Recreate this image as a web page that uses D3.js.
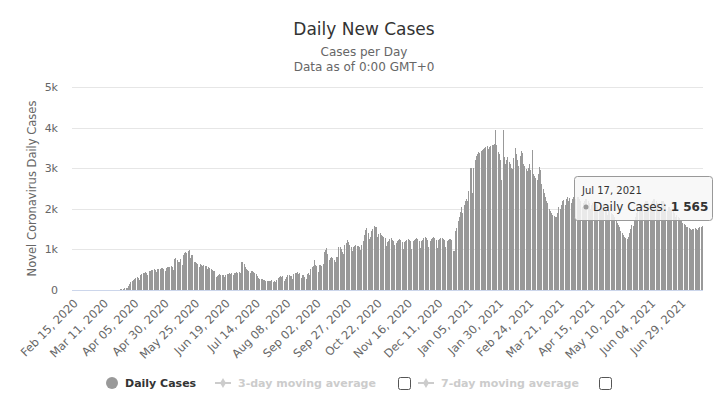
<!DOCTYPE html>
<html>
<head>
<meta charset="utf-8">
<script src="https://cdn.jsdelivr.net/npm/d3@7"></script>
<style>
  body { margin: 0; background: #fff; }
  .chart text { font-family: "DejaVu Sans", sans-serif; }
</style>
</head>
<body>
<div class="chart"></div>
<script>
// first day of the series, one value per day after it
const startDay = "2020-02-15";

const dailyCases = [
  0, 0, 0, 0, 0, 0, 0,
  0, 0, 0, 0, 0, 0, 0,
  0, 0, 0, 0, 0, 0, 0,
  0, 0, 0, 0, 0, 0, 0,
  0, 0, 0, 0, 0, 0, 0,
  0, 0, 0, 8, 15, 22, 12,
  30, 45, 60, 38, 95, 150, 190,
  230, 245, 270, 285, 310, 300, 250,
  360, 390, 410, 420, 440, 430, 380,
  470, 480, 495, 500, 505, 490, 440,
  510, 520, 525, 530, 540, 525, 470,
  550, 560, 565, 570, 580, 560, 490,
  760, 780, 740, 700, 690, 770, 620,
  860, 900, 940, 910, 960, 990, 780,
  870, 860, 700, 680, 660, 650, 560,
  640, 620, 600, 610, 590, 600, 520,
  560, 540, 520, 500, 480, 470, 320,
  350, 380, 390, 370, 380, 360, 330,
  380, 390, 400, 410, 400, 420, 360,
  420, 430, 440, 410, 450, 430, 680,
  700, 650, 560, 520, 500, 480, 430,
  480, 460, 440, 420, 400, 350, 300,
  280, 270, 260, 250, 240, 230, 220,
  230, 220, 210, 240, 200, 230, 190,
  250, 300, 320, 340, 330, 350, 230,
  280, 320, 360, 380, 340, 350, 260,
  400, 420, 430, 440, 390, 420, 300,
  380, 360, 330, 280, 400, 410, 370,
  520, 560, 600, 730, 620, 580, 450,
  610, 620, 600, 650, 940, 980, 1025,
  890, 730, 780, 820, 800, 750, 700,
  810, 820, 1050, 1070, 1020, 940, 880,
  1120, 1150, 1230, 1180, 1100, 1060, 950,
  1070, 1080, 1100, 1090, 1080, 1050, 980,
  1100, 1200, 1360, 1480, 1525, 1400, 1250,
  1300, 1450, 1500, 1570, 1560, 1545, 1300,
  1380, 1400, 1350, 1320, 1300, 1280, 1080,
  1190, 1210, 1250, 1275, 1230, 1200, 1100,
  1150, 1200, 1230, 1250, 1220, 1180, 1000,
  1180, 1210, 1240, 1260, 1230, 1200, 1010,
  1200, 1230, 1260, 1280, 1250, 1210, 1030,
  1200, 1240, 1270, 1300, 1280, 1230, 1050,
  1210, 1250, 1280, 1300, 1270, 1220, 1040,
  1220, 1250, 1270, 1290, 1260, 1230, 1060,
  1200, 1230, 1260, 1250, 1220, 970, 950,
  1460, 1520, 1700, 1800, 1920, 2040, 1900,
  2100, 2200, 2250, 2200, 2450, 3000, 3010,
  2400, 3000, 3200, 3300, 3350, 3400, 3380,
  3420, 3450, 3480, 3500, 3520, 3540, 3480,
  3530, 3550, 3560, 3560, 3600, 3930, 3560,
  3400, 3350, 3200, 2700, 3940, 3270, 3100,
  3200, 3270, 3150, 3100, 3000, 2980, 3250,
  3500, 3350, 3200, 3060, 3300, 3430, 3380,
  3100, 3050, 2980, 2940, 3000, 3100, 2950,
  3450, 2860, 2800, 2750, 2700, 2850, 3030,
  2960, 2600, 2500, 2400, 2300, 2200, 2150,
  2000, 1950, 1900, 1850, 1830, 1790, 1800,
  1900, 2040, 2000, 2100, 2200, 2220, 2100,
  2250, 2280, 2200, 2260, 2150, 2250, 2300,
  2200, 2250, 2300, 2280, 2250, 2200, 2050,
  2150, 2200, 2250, 2240, 2200, 2150, 2000,
  2100, 2150, 2200, 2180, 2150, 2100, 1950,
  2050, 2100, 2100, 2080, 2050, 2000, 1850,
  1950, 1950, 1900, 1880, 1850, 1800, 1700,
  1650, 1590, 1550, 1450, 1400, 1350, 1300,
  1280, 1260, 1300, 1400, 1500, 1600, 1580,
  1700, 1800, 1900, 2000, 2050, 2100, 1950,
  2100, 2150, 2200, 2200, 2180, 2150, 2000,
  2150, 2200, 2250, 2230, 2200, 2150, 2000,
  2150, 2180, 2200, 2200, 2150, 2100, 1950,
  2050, 2050, 2000, 1980, 1950, 1900, 1800,
  1850, 1800, 1780, 1710, 1690, 1650, 1625,
  1600, 1560, 1540, 1520, 1500, 1480, 1500,
  1510, 1530, 1500, 1480, 1520, 1540, 1550,
  1565
];

const yTicks = [0, 1000, 2000, 3000, 4000, 5000];

const xTickLabels = [
  "Feb 15, 2020", "Mar 11, 2020", "Apr 05, 2020", "Apr 30, 2020", "May 25, 2020",
  "Jun 19, 2020", "Jul 14, 2020", "Aug 08, 2020", "Sep 02, 2020", "Sep 27, 2020",
  "Oct 22, 2020", "Nov 16, 2020", "Dec 11, 2020", "Jan 05, 2021", "Jan 30, 2021",
  "Feb 24, 2021", "Mar 21, 2021", "Apr 15, 2021", "May 10, 2021", "Jun 04, 2021",
  "Jun 29, 2021"
];

const legendLabels = ["Daily Cases", "3-day moving average", "7-day moving average"];

const width = 728, height = 405;
const plot = { left: 72, right: 703, top: 87, bottom: 290 };
const barColor = "#999999";

const parseDay = d3.timeParse("%Y-%m-%d");
const parseLabel = d3.timeParse("%b %d, %Y");
const fmtTip = d3.timeFormat("%b %d, %Y");
const start = parseDay(startDay);
const days = dailyCases.map((d, i) => d3.timeDay.offset(start, i));

const svg = d3.select(".chart")
  .append("svg")
  .attr("width", width)
  .attr("height", height);

svg.append("rect").attr("width", width).attr("height", height).attr("fill", "#fff");

// titles
svg.append("text")
  .text("Daily New Cases")
  .attr("x", width / 2).attr("y", 35)
  .attr("text-anchor", "middle")
  .attr("font-size", 17)
  .attr("fill", "#333");

svg.append("text")
  .text("Cases per Day")
  .attr("x", width / 2).attr("y", 56)
  .attr("text-anchor", "middle")
  .attr("font-size", 12)
  .attr("fill", "#666");

svg.append("text")
  .text("Data as of 0:00 GMT+0")
  .attr("x", width / 2).attr("y", 71)
  .attr("text-anchor", "middle")
  .attr("font-size", 12)
  .attr("fill", "#666");

const x = d3.scaleBand()
  .domain(d3.range(dailyCases.length))
  .range([plot.left, plot.right]);

const y = d3.scaleLinear()
  .domain([0, 5000])
  .range([plot.bottom, plot.top]);

const yAxis = d3.axisLeft(y)
  .tickValues(yTicks)
  .tickSize(0)
  .tickPadding(14)
  .tickFormat(d => d === 0 ? "0" : d / 1000 + "k");

const yg = svg.append("g")
  .attr("transform", `translate(${plot.left},0)`)
  .call(yAxis);
yg.select(".domain").remove();
yg.selectAll(".tick text")
  .attr("font-size", 11)
  .attr("font-family", null)
  .attr("fill", "#666");
yg.selectAll(".tick line")
  .clone()
  .attr("x2", plot.right - plot.left)
  .attr("stroke", "#e6e6e6")
  .attr("shape-rendering", "crispEdges");

svg.append("text")
  .text("Novel Coronavirus Daily Cases")
  .attr("transform", `translate(36,${(plot.top + plot.bottom) / 2}) rotate(-90)`)
  .attr("text-anchor", "middle")
  .attr("font-size", 11.5)
  .attr("fill", "#666");

// bars
svg.append("g")
  .selectAll("rect")
  .data(dailyCases)
  .join("rect")
  .attr("x", (d, i) => Math.floor(x(i) + x.bandwidth() / 2))
  .attr("width", 1)
  .attr("y", d => y(d))
  .attr("height", d => y(0) - y(d))
  .attr("fill", barColor)
  .attr("shape-rendering", "crispEdges");

// x axis line
svg.append("line")
  .attr("x1", plot.left).attr("x2", plot.right)
  .attr("y1", y(0) + 0.5).attr("y2", y(0) + 0.5)
  .attr("stroke", "#ccd6eb");

// x labels
svg.append("g")
  .selectAll("text")
  .data(xTickLabels)
  .join("text")
  .text(d => d)
  .attr("transform", d => {
    const i = d3.timeDay.count(start, parseLabel(d));
    const tx = x(i) + x.bandwidth() / 2;
    return `translate(${tx + 6},${plot.bottom + 14}) rotate(-45)`;
  })
  .attr("text-anchor", "end")
  .attr("font-size", 11.5)
  .attr("fill", "#666");

// legend
const leg = svg.append("g").attr("font-size", 11).attr("font-weight", "bold");
leg.append("circle").attr("cx", 112).attr("cy", 383).attr("r", 6).attr("fill", barColor);
leg.append("text").text(legendLabels[0]).attr("x", 125).attr("y", 387).attr("fill", "#333");

[[215, legendLabels[1], 398], [418, legendLabels[2], 599]].forEach(([lx, label, bx]) => {
  leg.append("line")
    .attr("x1", lx).attr("x2", lx + 16)
    .attr("y1", 383).attr("y2", 383)
    .attr("stroke", "#ccc").attr("stroke-width", 2);
  leg.append("path")
    .attr("d", d3.symbol(d3.symbolDiamond, 30)())
    .attr("transform", `translate(${lx + 8},383)`)
    .attr("fill", "#ccc");
  leg.append("text").text(label).attr("x", lx + 23).attr("y", 387).attr("fill", "#ccc");
  leg.append("rect")
    .attr("x", bx + 0.5).attr("y", 377.5)
    .attr("width", 12).attr("height", 12)
    .attr("rx", 2)
    .attr("fill", "#fff")
    .attr("stroke", "#555");
});

// tooltip on the last day
const last = dailyCases.length - 1;
const tip = svg.append("g").attr("transform", "translate(574,176)");
tip.append("rect")
  .attr("x", 0.5).attr("y", 0.5)
  .attr("width", 138).attr("height", 44)
  .attr("rx", 3)
  .attr("fill", "rgba(247,247,247,0.85)")
  .attr("stroke", barColor);
tip.append("text")
  .text(fmtTip(days[last]).replace(/ 0(\d),/, " $1,"))
  .attr("x", 8).attr("y", 18)
  .attr("font-size", 10)
  .attr("fill", "#333");
tip.append("circle").attr("cx", 12).attr("cy", 31).attr("r", 2.5).attr("fill", barColor);
const tt = tip.append("text").attr("x", 19).attr("y", 35).attr("font-size", 12).attr("fill", "#333");
tt.append("tspan").text("Daily Cases: ");
tt.append("tspan").attr("font-weight", "bold").text(d3.format(",")(dailyCases[last]).replace(",", " "));
</script>
</body>
</html>
